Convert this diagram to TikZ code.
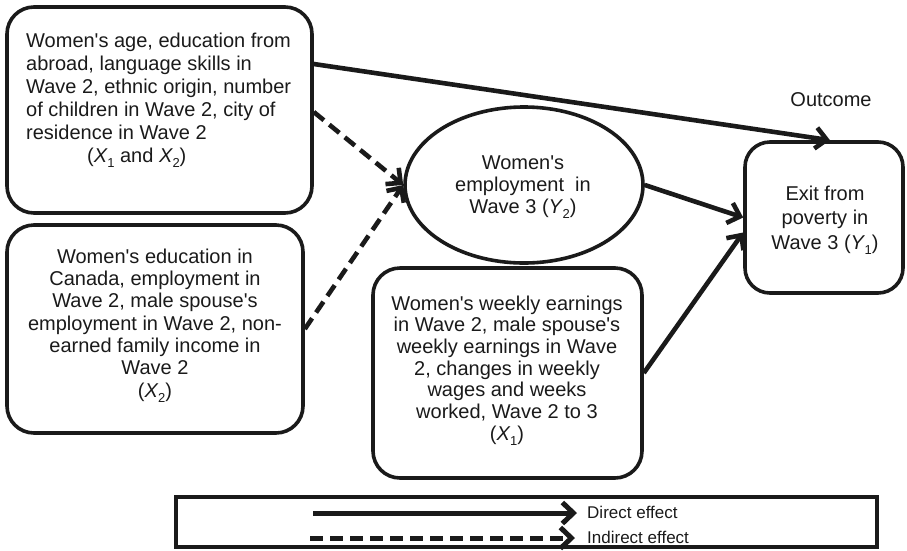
\documentclass[tikz,border=0pt]{standalone}
\usepackage{fontspec}
\setmainfont{Liberation Sans}
\usetikzlibrary{arrows.meta,shapes.geometric}
\definecolor{ink}{HTML}{1A1A1A}
\tikzset{
  boxshape/.style={draw=ink, line width=3.6pt, rounded corners=27pt, inner sep=0pt},
  ellshape/.style={draw=ink, line width=3.6pt, ellipse, inner sep=0pt},
  legshape/.style={draw=ink, line width=3.6pt, inner sep=0pt},
  txt/.style={inner sep=0pt, text=ink, font=\fontsize{20}{23}\selectfont},
  legtxt/.style={inner sep=0pt, text=ink, font=\fontsize{17}{20}\selectfont, anchor=base west},
  effect/.style={draw=ink, line width=4.6pt, -{Straight Barb[length=11pt,width=21pt]}},
  indirect/.style={effect, dash pattern=on 13pt off 7pt},
}
\newcommand{\sbs}[1]{\raisebox{-0.28em}{\fontsize{13}{13}\selectfont #1}}
\newcommand{\Xs}[1]{\textit{X}\kern-0.5pt\sbs{#1}}
\newcommand{\Ys}[1]{\textit{Y}\kern-0.5pt\sbs{#1}}
\newcommand{\ap}{\textquotesingle}
\begin{document}
\begin{tikzpicture}[x=1pt,y=-1pt]
\useasboundingbox (0,0) rectangle (907,550);
% shapes
\node[boxshape, minimum width=305pt, minimum height=206pt] (b1) at (159.5,110) {};
\node[boxshape, minimum width=296pt, minimum height=208pt] (b2) at (155,329) {};
\node[ellshape, minimum width=238pt, minimum height=156pt] (el) at (524,185) {};
\node[boxshape, minimum width=269pt, minimum height=210pt] (b3) at (507.5,373) {};
\node[boxshape, rounded corners=25pt, minimum width=158pt, minimum height=151pt] (ex) at (824,217.5) {};
\node[legshape, minimum width=701pt, minimum height=50pt] (leg) at (526.5,522) {};
% texts
\node[txt, anchor=north west, align=left] (t1) at (26,32.4) {Women\ap s age, education from\\abroad, language skills in\\Wave 2, ethnic origin, number\\of children in Wave 2, city of\\residence in Wave 2\\\hspace*{61pt}(\Xs{1} and \Xs{2})};
\node[txt, anchor=north, align=center, font=\fontsize{20}{22.3}\selectfont] (t2) at (155,248.5) {Women\ap s education in\\Canada, employment in\\Wave 2, male spouse\ap s\\employment in Wave 2, non-\\earned family income in\\Wave 2\\(\Xs{2})};
\node[txt, anchor=north, align=center, font=\fontsize{20}{21.7}\selectfont] (t3) at (507,295.4) {Women\ap s weekly earnings\\in Wave 2, male spouse\ap s\\weekly earnings in Wave\\2, changes in weekly\\wages and weeks\\worked, Wave 2 to 3\\(\Xs{1})};
\node[txt, anchor=north, align=center, font=\fontsize{20}{21.7}\selectfont] (te) at (523,155.7) {Women\ap s\\employment~ in\\Wave 3 (\Ys{2})};
\node[txt, anchor=north, align=center, font=\fontsize{20}{24.5}\selectfont] (tx) at (825,185.4) {Exit from\\poverty in\\Wave 3 (\Ys{1})};
\node[txt, anchor=base] (out) at (831,106) {Outcome};
% connectors
\draw[effect] ([yshift=46pt]b1.east) -- ([xshift=6pt]ex.north);
\draw[indirect] ([yshift=-2pt]b1.east) -- (el.west);
\draw[indirect] (b2.east) -- (el.west);
\draw[effect] (el.east) -- (ex.west);
\draw[effect] (b3.east) -- ([yshift=-15pt]ex.west);
% legend
\coordinate (d1) at (313,513);
\coordinate (d2) at (577,513);
\coordinate (i1) at (310,538);
\coordinate (i2) at (575,538);
\draw[effect, line width=5pt] (d1) -- (d2);
\draw[indirect, line width=5pt] (i1) -- (i2);
\node[legtxt] (ld) at (587,518) {Direct effect};
\node[legtxt] (li) at (587,543) {Indirect effect};
\end{tikzpicture}
\end{document}
